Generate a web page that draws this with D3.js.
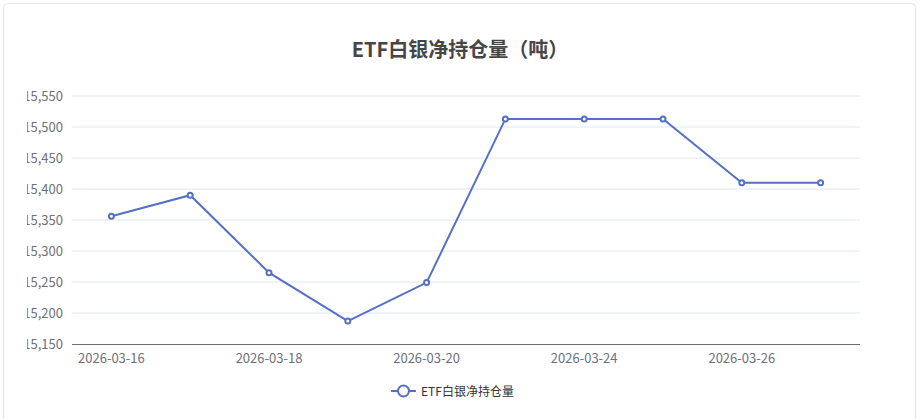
<!DOCTYPE html>
<html><head><meta charset="utf-8">
<script src="https://cdn.jsdelivr.net/npm/d3@7"></script>
<style>body{margin:0;background:#fff}</style></head>
<body><svg id="c" width="920" height="419"></svg>
<script>
const categories=["2026-03-16","2026-03-17","2026-03-18","2026-03-19","2026-03-20","2026-03-23","2026-03-24","2026-03-25","2026-03-26","2026-03-27"];
const values=[15356,15390,15265,15187,15249,15513,15513,15513,15410,15410];
const yTicks=[15150,15200,15250,15300,15350,15400,15450,15500,15550];
const seriesName="ETF白银净持仓量";
const title="ETF白银净持仓量（吨）";
const color="#5470c6";
const font="'Noto Sans CJK SC','Noto Sans',sans-serif";
const svg=d3.select("#c");
svg.append("rect").attr("x",3.5).attr("y",3.5).attr("width",912).attr("height",430).attr("rx",4).attr("fill","#fff").attr("stroke","#e6e6e6");
svg.append("defs").append("clipPath").attr("id","cl").append("rect").attr("x",27).attr("y",0).attr("width",900).attr("height",419);
const x=d3.scaleBand().domain(categories).range([72,860]);
const y=d3.scaleLinear().domain([15150,15550]).range([344,96]);
svg.append("text").attr("x",460).attr("y",57).attr("text-anchor","middle").attr("font-family",font).attr("font-weight","bold").attr("font-size",20).attr("fill","#464646").text(title);
const g=svg.append("g");
g.selectAll("line.grid").data(yTicks.slice(1)).join("line").attr("x1",72).attr("x2",860).attr("y1",d=>y(d)).attr("y2",d=>y(d)).attr("stroke","#e0e6f1");
svg.append("g").attr("clip-path","url(#cl)").selectAll("text").data(yTicks).join("text").attr("x",63).attr("y",d=>y(d)+5).attr("text-anchor","end").attr("font-family",font).attr("font-size",13).attr("fill","#6e7079").text(d3.format(","));
g.append("line").attr("x1",72).attr("x2",860).attr("y1",344.5).attr("y2",344.5).attr("stroke","#6e7079");
g.selectAll("text.xl").data(categories.filter((d,i)=>i%2==0)).join("text").attr("x",d=>x(d)+x.bandwidth()/2).attr("y",363).attr("text-anchor","middle").attr("font-family",font).attr("font-size",13).attr("fill","#6e7079").text(d=>d);
const line=d3.line().x((d,i)=>x(categories[i])+x.bandwidth()/2).y(d=>y(d));
g.append("path").datum(values).attr("d",line).attr("fill","none").attr("stroke",color).attr("stroke-width",2);
g.selectAll("circle").data(values).join("circle").attr("cx",(d,i)=>x(categories[i])+x.bandwidth()/2).attr("cy",d=>y(d)).attr("r",2.5).attr("fill","#fff").attr("stroke",color).attr("stroke-width",2);
const lg=svg.append("g");
lg.append("line").attr("x1",391).attr("x2",416).attr("y1",391).attr("y2",391).attr("stroke",color).attr("stroke-width",2);
lg.append("circle").attr("cx",403.5).attr("cy",391).attr("r",5.5).attr("fill","#fff").attr("stroke",color).attr("stroke-width",2);
lg.append("text").attr("x",421).attr("y",396).attr("font-family",font).attr("font-size",12).attr("fill","#333").text(seriesName);
</script></body></html>
